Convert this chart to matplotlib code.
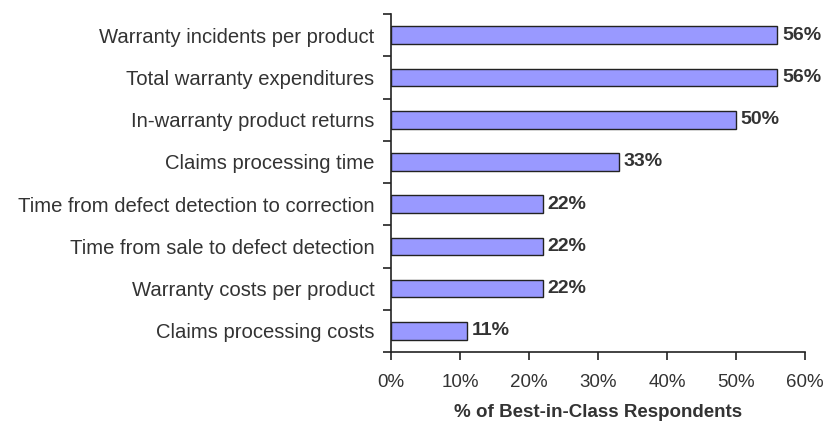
import matplotlib
matplotlib.use("Agg")
import matplotlib.pyplot as plt
import numpy as np

categories = [
    "Warranty incidents per product",
    "Total warranty expenditures",
    "In-warranty product returns",
    "Claims processing time",
    "Time from defect detection to correction",
    "Time from sale to defect detection",
    "Warranty costs per product",
    "Claims processing costs",
]
values = [56, 56, 50, 33, 22, 22, 22, 11]
xticks = [0, 10, 20, 30, 40, 50, 60]
xlabel = "% of Best-in-Class Respondents"

plt.rcParams['font.family'] = ['Liberation Sans', 'DejaVu Sans']

fig = plt.figure(figsize=(8.27, 4.30), dpi=100)
ax = fig.add_axes([0.4728, 0.1814, 0.9734 - 0.4728, 0.9674 - 0.1814])

y = np.arange(len(categories))
ax.barh(y, values, height=0.42, color="#9999FF", edgecolor="#222222", linewidth=1.0)

for yi, v in zip(y, values):
    ax.text(v + 0.7, yi, f"{v}%", va="center", ha="left", fontsize=14,
            fontweight="bold", color="#333333")

ax.set_xlim(0, 60)
ax.set_ylim(len(categories) - 0.5, -0.5)
ax.set_xticks(xticks)
ax.set_xticklabels([f"{t}%" for t in xticks], fontsize=13.5, color="#333333")
ax.set_yticks(y)
ax.set_yticklabels(categories, fontsize=14.6, color="#333333")
ax.tick_params(axis="y", which="major", length=0, pad=12)
ax.set_yticks(np.arange(-0.5, len(categories), 1.0), minor=True)
ax.tick_params(axis="y", which="minor", length=6, width=1.2, color="#222222")
ax.tick_params(axis="x", which="major", length=6, width=1.2, color="#222222", pad=10)

for s in ["top", "right"]:
    ax.spines[s].set_visible(False)
for s in ["left", "bottom"]:
    ax.spines[s].set_linewidth(1.2)
    ax.spines[s].set_color("#222222")

ax.set_xlabel(xlabel, fontsize=13.5, fontweight="bold", color="#333333", labelpad=9)

fig.savefig("out.png", dpi=100)
